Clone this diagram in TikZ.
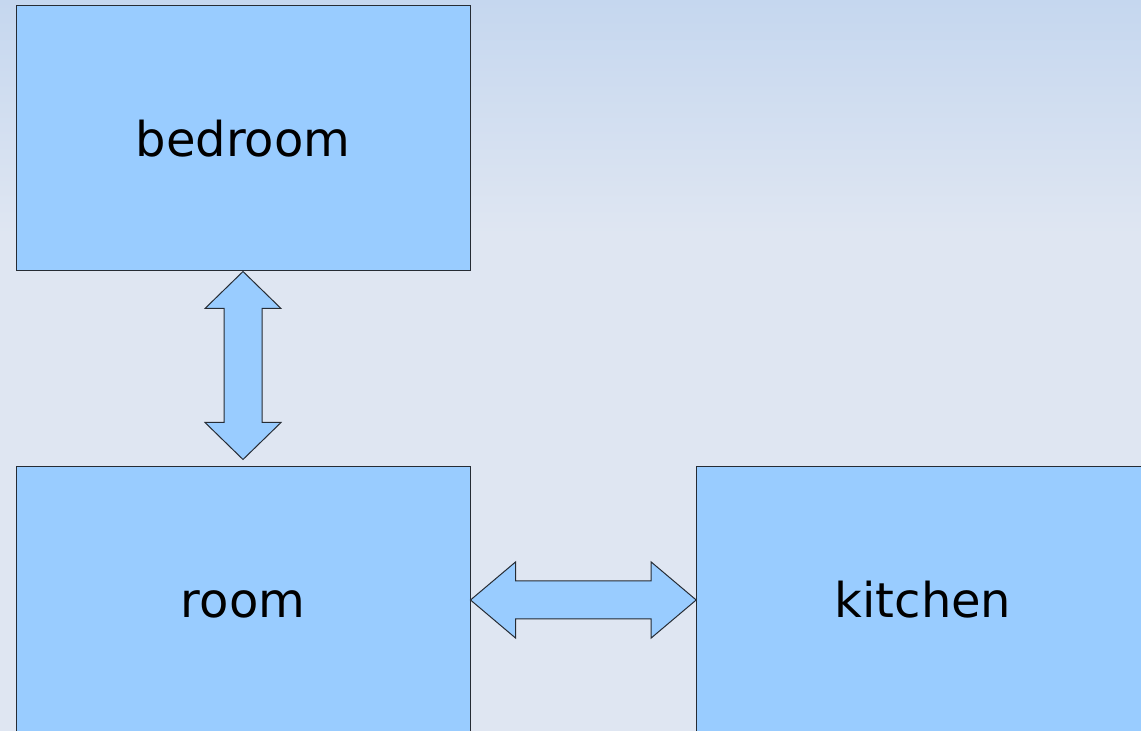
\documentclass[tikz,border=0pt]{standalone}
\usepackage{fontspec}
\setmainfont{DejaVu Sans}
\usetikzlibrary{calc}
\definecolor{bgtop}{HTML}{C5D7EF}
\definecolor{bgbot}{HTML}{DFE6F2}
\definecolor{roomfill}{HTML}{99CCFF}
\definecolor{edge}{HTML}{262C34}
\tikzset{
  roombox/.style={draw=edge, fill=roomfill, line width=1pt,
    minimum width=454pt, minimum height=265pt, inner sep=0pt,
    font=\fontsize{48}{57}\selectfont, text height=36.5pt, text depth=0pt},
  passage/.style={draw=edge, fill=roomfill, line width=1pt, line join=miter}
}
\begin{document}
\begin{tikzpicture}[x=1pt,y=1pt]
  % page and background
  \useasboundingbox (0,0) rectangle (1141,731);
  \clip (0,0) rectangle (1141,731);
  \fill[bgbot] (0,0) rectangle (1141,497);
  \shade[top color=bgtop, bottom color=bgbot] (0,496) rectangle (1141,731);

  % rooms
  \node[roombox] (bedroom) at (243,592.5) {bedroom};
  \node[roombox] (room)    at (243,131.5) {room};
  \node[roombox] (kitchen) at (923,131.5) {kitchen};

  % free end of the vertical passage, just above the room
  \coordinate (vtip) at ($(room.north)+(0,7)$);

  % bedroom <-> room
  \draw[passage] let \p1=(bedroom.south), \p2=(vtip) in
    (\p1) -- (\x1+38pt,\y1-37pt) -- (\x1+19pt,\y1-37pt)
    -- (\x1+19pt,\y2+37pt) -- (\x1+38pt,\y2+37pt) -- (\p2)
    -- (\x1-38pt,\y2+37pt) -- (\x1-19pt,\y2+37pt)
    -- (\x1-19pt,\y1-37pt) -- (\x1-38pt,\y1-37pt) -- cycle;

  % room <-> kitchen
  \draw[passage] let \p1=($(room.east)+(0,-0.5)$), \p2=($(kitchen.west)+(0.7,-0.5)$) in
    (\p1) -- (\x1+45pt,\y1+38pt) -- (\x1+45pt,\y1+19pt)
    -- (\x2-45pt,\y1+19pt) -- (\x2-45pt,\y1+38pt) -- (\p2)
    -- (\x2-45pt,\y1-38pt) -- (\x2-45pt,\y1-19pt)
    -- (\x1+45pt,\y1-19pt) -- (\x1+45pt,\y1-38pt) -- cycle;
\end{tikzpicture}
\end{document}
